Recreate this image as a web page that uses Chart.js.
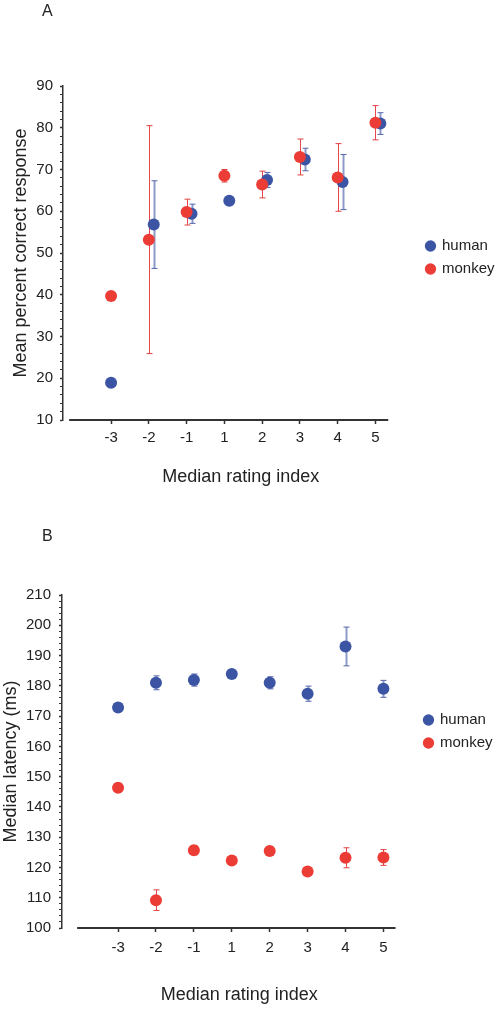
<!DOCTYPE html>
<html>
<head>
<meta charset="utf-8">
<title>Rating index: accuracy and latency</title>
<script src="https://cdn.jsdelivr.net/npm/chart.js@4.4.1/dist/chart.umd.min.js"></script>
<style>
  html, body { margin: 0; padding: 0; background: #fff; }
  .panel { position: absolute; left: 0; width: 498px; height: 505px; }
  #panelA { top: 0; }
  #panelB { top: 505px; }
</style>
</head>
<body>
<div class="panel" id="panelA"><canvas id="chartA" width="498" height="505"></canvas></div>
<div class="panel" id="panelB"><canvas id="chartB" width="498" height="505"></canvas></div>
<script>
// x categories (median rating index)
const ratingLabels = ['-3', '-2', '-1', '1', '2', '3', '4', '5'];

// Panel A - mean percent correct response (+/- error)
const humanCorrect = [18.9, 56.8, 59.4, 62.5, 67.5, 72.4, 67.0, 81.0];
const humanCorrectErr = [0, 10.5, 2.3, 1.0, 1.8, 2.7, 6.6, 2.6];
const monkeyCorrect = [39.7, 53.2, 59.8, 68.5, 66.4, 73.0, 68.1, 81.2];
const monkeyCorrectErr = [0, 27.3, 3.1, 1.5, 3.2, 4.3, 8.1, 4.1];

// Panel B - median latency in ms (+/- error)
const humanLatency = [172.8, 181.0, 181.9, 183.9, 181.0, 177.4, 193.0, 179.0];
const humanLatencyErr = [0.5, 2.3, 2.0, 0.5, 2.0, 2.5, 6.4, 2.8];
const monkeyLatency = [146.3, 109.2, 125.7, 122.3, 125.4, 118.7, 123.2, 123.3];
const monkeyLatencyErr = [0.5, 3.4, 1.5, 0.5, 1.3, 0.5, 3.3, 2.6];

Chart.defaults.font.family = "'Liberation Sans', Arial, Helvetica, sans-serif";
Chart.defaults.color = '#222';

const colors = {
  human: '#3b55a4',
  monkey: '#ec3c36',
  humanBar: '#8d9ac8',
  humanCap: '#5566aa',
  monkeyBar: '#e8464a',
  monkeyCap: '#e04040',
  axis: '#333'
};

// small horizontal nudge used in panel A so overlapping markers stay visible
const HUMAN_NUDGE_A = 0.13;

// error bars, drawn under the markers
const errorBars = {
  id: 'errorBars',
  beforeDatasetsDraw(chart) {
    const { ctx, scales: { x, y } } = chart;
    const cap = 3;
    chart.data.datasets.forEach((ds, i) => {
      if (!chart.isDatasetVisible(i) || !ds.errors) return;
      ds.data.forEach((pt, j) => {
        const err = ds.errors[j];
        if (!err) return;
        const px = Math.round(x.getPixelForValue(pt.x)) + 0.5;
        const top = y.getPixelForValue(pt.y + err);
        const bot = y.getPixelForValue(pt.y - err);
        ctx.save();
        ctx.strokeStyle = ds.errorColor;
        ctx.lineWidth = ds.errorWidth;
        ctx.beginPath();
        ctx.moveTo(px, top);
        ctx.lineTo(px, bot);
        ctx.stroke();
        ctx.strokeStyle = ds.capColor;
        ctx.lineWidth = 1;
        ctx.beginPath();
        ctx.moveTo(px - cap, top);
        ctx.lineTo(px + cap, top);
        ctx.moveTo(px - cap, bot);
        ctx.lineTo(px + cap, bot);
        ctx.stroke();
        ctx.restore();
      });
    });
  }
};

// x axis line that does not touch the y axis
const xAxisLine = {
  id: 'xAxisLine',
  beforeDatasetsDraw(chart, args, opts) {
    const { ctx, chartArea, scales: { x } } = chart;
    ctx.save();
    ctx.strokeStyle = colors.axis;
    ctx.lineWidth = 2;
    ctx.beginPath();
    ctx.moveTo(x.getPixelForValue(opts.from), chartArea.bottom);
    ctx.lineTo(x.getPixelForValue(opts.to), chartArea.bottom);
    ctx.stroke();
    ctx.restore();
  }
};

// panel letter (A / B)
const panelLetter = {
  id: 'panelLetter',
  afterDraw(chart, args, opts) {
    const { ctx } = chart;
    ctx.save();
    ctx.font = "16px 'Liberation Sans', Arial, sans-serif";
    ctx.fillStyle = '#222';
    ctx.textBaseline = 'middle';
    ctx.fillText(opts.text, opts.x, opts.y);
    ctx.restore();
  }
};

function toPoints(values, nudge) {
  return values.map((v, i) => ({ x: i + nudge(i), y: v }));
}

function makePanel(id, cfg) {
  return new Chart(document.getElementById(id), {
    type: 'scatter',
    data: {
      datasets: [
        {
          label: 'human',
          data: toPoints(cfg.human, cfg.humanNudge),
          errors: cfg.humanErr,
          errorColor: colors.humanBar,
          capColor: colors.humanCap,
          errorWidth: 2,
          backgroundColor: colors.human,
          borderColor: colors.human,
          borderWidth: 0,
          pointRadius: 6,
          order: 1
        },
        {
          label: 'monkey',
          data: toPoints(cfg.monkey, () => 0),
          errors: cfg.monkeyErr,
          errorColor: colors.monkeyBar,
          capColor: colors.monkeyCap,
          errorWidth: 1,
          backgroundColor: colors.monkey,
          borderColor: colors.monkey,
          borderWidth: 0,
          pointRadius: 6,
          order: 0
        }
      ]
    },
    options: {
      responsive: false,
      animation: false,
      // the legend box reserves 10px of slack on its right, so the right padding goes negative
      layout: { padding: { top: cfg.padTop, right: cfg.padRight, bottom: 0, left: 0 } },
      plugins: {
        tooltip: { enabled: false },
        legend: {
          position: 'right',
          align: 'start',
          fullSize: false,
          title: {
            display: true,
            text: '',
            font: { size: 10, lineHeight: 1 },
            padding: { top: cfg.legendOffset, bottom: 0 }
          },
          labels: {
            usePointStyle: true,
            pointStyle: 'circle',
            boxWidth: 8,
            boxHeight: 8,
            padding: 8,
            font: { size: 15 },
            color: '#222',
            sort: (a, b) => a.datasetIndex - b.datasetIndex
          }
        },
        xAxisLine: { from: cfg.axisFrom, to: cfg.axisTo },
        panelLetter: { text: cfg.letter, x: 42, y: cfg.letterY }
      },
      scales: {
        x: {
          type: 'linear',
          min: cfg.xMin,
          max: cfg.xMax,
          afterBuildTicks: (scale) => {
            scale.ticks = ratingLabels.map((_, i) => ({ value: i }));
          },
          afterFit: (scale) => { scale.height = cfg.xHeight; },
          border: { display: false },
          grid: {
            drawOnChartArea: false,
            drawTicks: true,
            tickLength: 4,
            tickColor: colors.axis,
            tickWidth: 1.5
          },
          ticks: {
            autoSkip: false,
            maxRotation: 0,
            padding: cfg.xTickPad,
            font: { size: 15 },
            color: '#222',
            callback: (v) => ratingLabels[v]
          },
          title: {
            display: true,
            text: 'Median rating index',
            font: { size: 18 },
            color: '#222',
            padding: { top: 0, bottom: cfg.xTitlePad }
          }
        },
        y: {
          min: cfg.yMin,
          max: cfg.yMax,
          afterFit: (scale) => { scale.width = cfg.yWidth; },
          border: { display: true, color: colors.axis, width: 1.5 },
          grid: {
            drawOnChartArea: false,
            drawTicks: true,
            tickLength: 3,
            tickColor: colors.axis,
            tickWidth: (c) => (c.tick && c.tick.value % 10 === 0 ? 1.5 : 1)
          },
          ticks: {
            stepSize: 2,
            autoSkip: false,
            padding: cfg.yTickPad,
            font: { size: 15 },
            color: '#222',
            callback: (v) => (v % 10 === 0 ? v : '')
          },
          title: {
            display: true,
            text: cfg.yTitle,
            font: { size: 18 },
            color: '#222',
            padding: { top: cfg.yTitlePad, bottom: 0 }
          }
        }
      }
    },
    plugins: [errorBars, xAxisLine, panelLetter]
  });
}

makePanel('chartA', {
  letter: 'A', letterY: 12,
  human: humanCorrect, humanErr: humanCorrectErr,
  monkey: monkeyCorrect, monkeyErr: monkeyCorrectErr,
  humanNudge: (i) => (i === 0 ? 0 : HUMAN_NUDGE_A),
  yTitle: 'Mean percent correct response',
  yMin: 10, yMax: 90,
  xMin: -1.273, xMax: 8.14,
  axisFrom: -1.11, axisTo: 7.34,
  padTop: 86, padRight: -6.5,
  yWidth: 63, xHeight: 85,
  xTickPad: 5, xTitlePad: 17,
  yTickPad: 7, yTitlePad: 10,
  legendOffset: 134.5
});

makePanel('chartB', {
  letter: 'B', letterY: 32,
  human: humanLatency, humanErr: humanLatencyErr,
  monkey: monkeyLatency, monkeyErr: monkeyLatencyErr,
  humanNudge: () => 0,
  yTitle: 'Median latency (ms)',
  yMin: 100, yMax: 210,
  xMin: -1.479, xMax: 7.872,
  axisFrom: -1.08, axisTo: 7.32,
  padTop: 90, padRight: -4.5,
  yWidth: 62, xHeight: 82,
  xTickPad: 7, xTitlePad: 4,
  yTickPad: 8, yTitlePad: 0,
  legendOffset: 99.5
});
</script>
</body>
</html>
